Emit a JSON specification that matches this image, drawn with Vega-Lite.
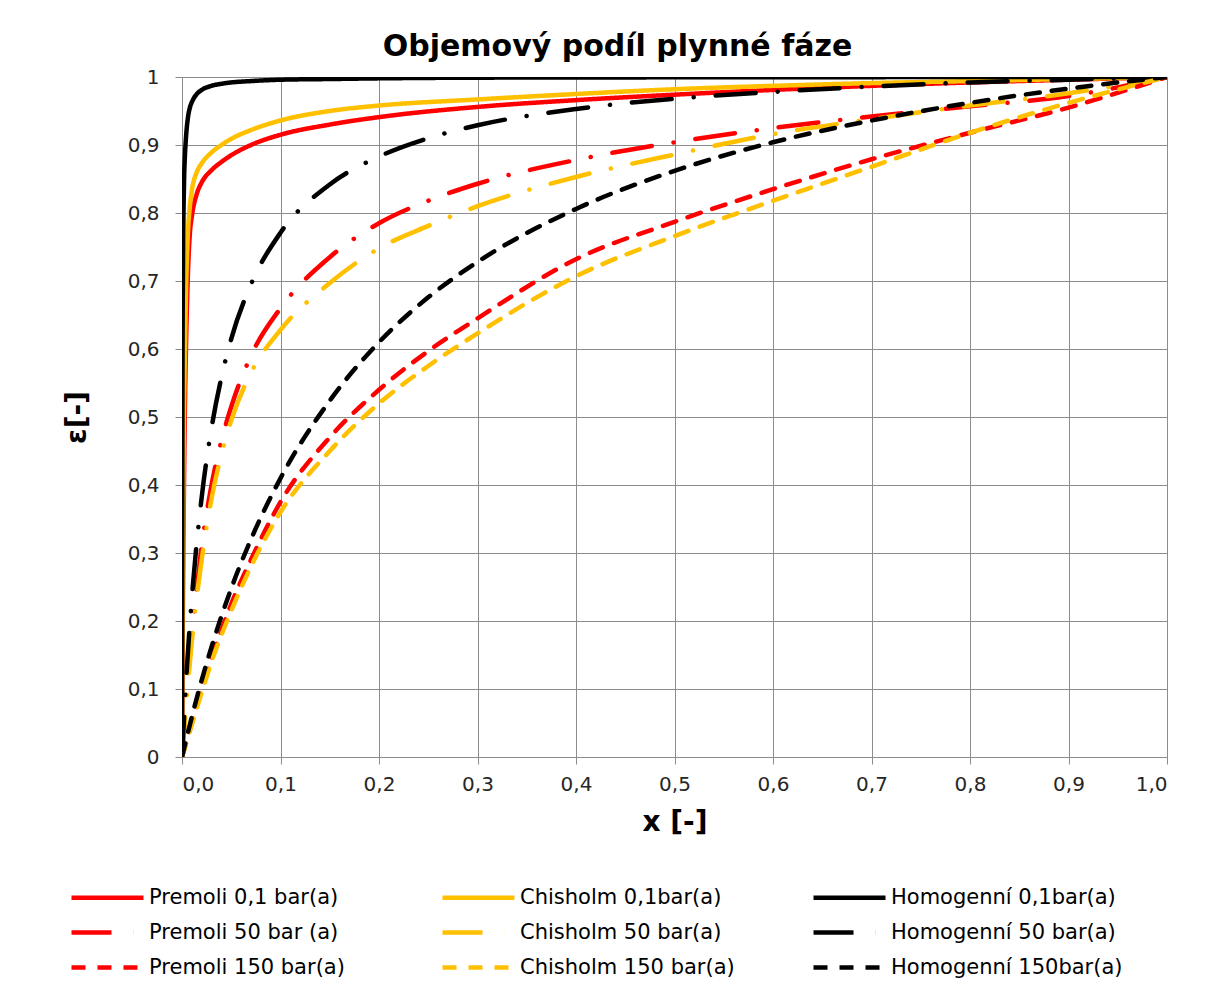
{
  "$schema": "https://vega.github.io/schema/vega-lite/v6.json",
  "width": 985,
  "height": 680,
  "autosize": "none",
  "padding": {"left": 182, "top": 77, "right": 50, "bottom": 246},
  "background": "white",
  "title": {"text": "Objemový podíl plynné fáze", "font": "DejaVu Sans", "fontSize": 30, "fontWeight": "bold", "color": "#000000", "dx": -57, "offset": 5},
  "datasets": {
    "curves": [
      {"s": "Premoli 0,1 bar(a)", "x": 0, "e": 0},
      {"s": "Premoli 0,1 bar(a)", "x": 0.0005, "e": 0.13},
      {"s": "Premoli 0,1 bar(a)", "x": 0.001, "e": 0.24},
      {"s": "Premoli 0,1 bar(a)", "x": 0.002, "e": 0.4},
      {"s": "Premoli 0,1 bar(a)", "x": 0.003, "e": 0.52},
      {"s": "Premoli 0,1 bar(a)", "x": 0.004, "e": 0.6},
      {"s": "Premoli 0,1 bar(a)", "x": 0.006, "e": 0.71},
      {"s": "Premoli 0,1 bar(a)", "x": 0.008, "e": 0.77},
      {"s": "Premoli 0,1 bar(a)", "x": 0.01, "e": 0.795},
      {"s": "Premoli 0,1 bar(a)", "x": 0.015, "e": 0.828},
      {"s": "Premoli 0,1 bar(a)", "x": 0.02, "e": 0.845},
      {"s": "Premoli 0,1 bar(a)", "x": 0.03, "e": 0.863},
      {"s": "Premoli 0,1 bar(a)", "x": 0.04, "e": 0.875},
      {"s": "Premoli 0,1 bar(a)", "x": 0.05, "e": 0.885},
      {"s": "Premoli 0,1 bar(a)", "x": 0.07, "e": 0.9},
      {"s": "Premoli 0,1 bar(a)", "x": 0.1, "e": 0.915},
      {"s": "Premoli 0,1 bar(a)", "x": 0.15, "e": 0.93},
      {"s": "Premoli 0,1 bar(a)", "x": 0.2, "e": 0.941},
      {"s": "Premoli 0,1 bar(a)", "x": 0.3, "e": 0.956},
      {"s": "Premoli 0,1 bar(a)", "x": 0.4, "e": 0.966},
      {"s": "Premoli 0,1 bar(a)", "x": 0.5, "e": 0.974},
      {"s": "Premoli 0,1 bar(a)", "x": 0.6, "e": 0.981},
      {"s": "Premoli 0,1 bar(a)", "x": 0.7, "e": 0.987},
      {"s": "Premoli 0,1 bar(a)", "x": 0.8, "e": 0.992},
      {"s": "Premoli 0,1 bar(a)", "x": 0.9, "e": 0.996},
      {"s": "Premoli 0,1 bar(a)", "x": 1, "e": 1},

      {"s": "Chisholm 0,1bar(a)", "x": 0, "e": 0},
      {"s": "Chisholm 0,1bar(a)", "x": 0.0005, "e": 0.2},
      {"s": "Chisholm 0,1bar(a)", "x": 0.001, "e": 0.33},
      {"s": "Chisholm 0,1bar(a)", "x": 0.002, "e": 0.5},
      {"s": "Chisholm 0,1bar(a)", "x": 0.003, "e": 0.6},
      {"s": "Chisholm 0,1bar(a)", "x": 0.004, "e": 0.68},
      {"s": "Chisholm 0,1bar(a)", "x": 0.006, "e": 0.77},
      {"s": "Chisholm 0,1bar(a)", "x": 0.008, "e": 0.81},
      {"s": "Chisholm 0,1bar(a)", "x": 0.01, "e": 0.833},
      {"s": "Chisholm 0,1bar(a)", "x": 0.015, "e": 0.86},
      {"s": "Chisholm 0,1bar(a)", "x": 0.02, "e": 0.873},
      {"s": "Chisholm 0,1bar(a)", "x": 0.03, "e": 0.889},
      {"s": "Chisholm 0,1bar(a)", "x": 0.04, "e": 0.9},
      {"s": "Chisholm 0,1bar(a)", "x": 0.05, "e": 0.909},
      {"s": "Chisholm 0,1bar(a)", "x": 0.07, "e": 0.922},
      {"s": "Chisholm 0,1bar(a)", "x": 0.1, "e": 0.936},
      {"s": "Chisholm 0,1bar(a)", "x": 0.15, "e": 0.95},
      {"s": "Chisholm 0,1bar(a)", "x": 0.2, "e": 0.958},
      {"s": "Chisholm 0,1bar(a)", "x": 0.3, "e": 0.967},
      {"s": "Chisholm 0,1bar(a)", "x": 0.4, "e": 0.975},
      {"s": "Chisholm 0,1bar(a)", "x": 0.5, "e": 0.982},
      {"s": "Chisholm 0,1bar(a)", "x": 0.6, "e": 0.987},
      {"s": "Chisholm 0,1bar(a)", "x": 0.7, "e": 0.991},
      {"s": "Chisholm 0,1bar(a)", "x": 0.8, "e": 0.994},
      {"s": "Chisholm 0,1bar(a)", "x": 0.9, "e": 0.997},
      {"s": "Chisholm 0,1bar(a)", "x": 1, "e": 1},

      {"s": "Homogenní 0,1bar(a)", "x": 0, "e": 0},
      {"s": "Homogenní 0,1bar(a)", "x": 0.0005, "e": 0.56},
      {"s": "Homogenní 0,1bar(a)", "x": 0.001, "e": 0.72},
      {"s": "Homogenní 0,1bar(a)", "x": 0.002, "e": 0.84},
      {"s": "Homogenní 0,1bar(a)", "x": 0.003, "e": 0.885},
      {"s": "Homogenní 0,1bar(a)", "x": 0.004, "e": 0.91},
      {"s": "Homogenní 0,1bar(a)", "x": 0.006, "e": 0.94},
      {"s": "Homogenní 0,1bar(a)", "x": 0.008, "e": 0.955},
      {"s": "Homogenní 0,1bar(a)", "x": 0.01, "e": 0.963},
      {"s": "Homogenní 0,1bar(a)", "x": 0.015, "e": 0.975},
      {"s": "Homogenní 0,1bar(a)", "x": 0.02, "e": 0.981},
      {"s": "Homogenní 0,1bar(a)", "x": 0.03, "e": 0.987},
      {"s": "Homogenní 0,1bar(a)", "x": 0.04, "e": 0.99},
      {"s": "Homogenní 0,1bar(a)", "x": 0.05, "e": 0.992},
      {"s": "Homogenní 0,1bar(a)", "x": 0.07, "e": 0.994},
      {"s": "Homogenní 0,1bar(a)", "x": 0.1, "e": 0.996},
      {"s": "Homogenní 0,1bar(a)", "x": 0.15, "e": 0.997},
      {"s": "Homogenní 0,1bar(a)", "x": 0.2, "e": 0.998},
      {"s": "Homogenní 0,1bar(a)", "x": 0.3, "e": 0.999},
      {"s": "Homogenní 0,1bar(a)", "x": 0.5, "e": 0.9995},
      {"s": "Homogenní 0,1bar(a)", "x": 0.7, "e": 0.9998},
      {"s": "Homogenní 0,1bar(a)", "x": 1, "e": 1},

      {"s": "Premoli 50 bar (a)", "x": 0, "e": 0},
      {"s": "Premoli 50 bar (a)", "x": 0.005, "e": 0.1},
      {"s": "Premoli 50 bar (a)", "x": 0.01, "e": 0.18},
      {"s": "Premoli 50 bar (a)", "x": 0.02, "e": 0.31},
      {"s": "Premoli 50 bar (a)", "x": 0.03, "e": 0.4},
      {"s": "Premoli 50 bar (a)", "x": 0.04, "e": 0.465},
      {"s": "Premoli 50 bar (a)", "x": 0.05, "e": 0.515},
      {"s": "Premoli 50 bar (a)", "x": 0.07, "e": 0.59},
      {"s": "Premoli 50 bar (a)", "x": 0.1, "e": 0.66},
      {"s": "Premoli 50 bar (a)", "x": 0.15, "e": 0.735},
      {"s": "Premoli 50 bar (a)", "x": 0.2, "e": 0.785},
      {"s": "Premoli 50 bar (a)", "x": 0.25, "e": 0.818},
      {"s": "Premoli 50 bar (a)", "x": 0.3, "e": 0.843},
      {"s": "Premoli 50 bar (a)", "x": 0.4, "e": 0.878},
      {"s": "Premoli 50 bar (a)", "x": 0.5, "e": 0.904},
      {"s": "Premoli 50 bar (a)", "x": 0.6, "e": 0.925},
      {"s": "Premoli 50 bar (a)", "x": 0.7, "e": 0.942},
      {"s": "Premoli 50 bar (a)", "x": 0.8, "e": 0.957},
      {"s": "Premoli 50 bar (a)", "x": 0.9, "e": 0.972},
      {"s": "Premoli 50 bar (a)", "x": 1, "e": 1},

      {"s": "Chisholm 50 bar(a)", "x": 0, "e": 0},
      {"s": "Chisholm 50 bar(a)", "x": 0.005, "e": 0.09},
      {"s": "Chisholm 50 bar(a)", "x": 0.01, "e": 0.17},
      {"s": "Chisholm 50 bar(a)", "x": 0.02, "e": 0.29},
      {"s": "Chisholm 50 bar(a)", "x": 0.03, "e": 0.38},
      {"s": "Chisholm 50 bar(a)", "x": 0.04, "e": 0.445},
      {"s": "Chisholm 50 bar(a)", "x": 0.05, "e": 0.495},
      {"s": "Chisholm 50 bar(a)", "x": 0.07, "e": 0.565},
      {"s": "Chisholm 50 bar(a)", "x": 0.1, "e": 0.628},
      {"s": "Chisholm 50 bar(a)", "x": 0.15, "e": 0.697},
      {"s": "Chisholm 50 bar(a)", "x": 0.2, "e": 0.748},
      {"s": "Chisholm 50 bar(a)", "x": 0.25, "e": 0.781},
      {"s": "Chisholm 50 bar(a)", "x": 0.3, "e": 0.81},
      {"s": "Chisholm 50 bar(a)", "x": 0.4, "e": 0.853},
      {"s": "Chisholm 50 bar(a)", "x": 0.5, "e": 0.886},
      {"s": "Chisholm 50 bar(a)", "x": 0.6, "e": 0.916},
      {"s": "Chisholm 50 bar(a)", "x": 0.7, "e": 0.938},
      {"s": "Chisholm 50 bar(a)", "x": 0.8, "e": 0.958},
      {"s": "Chisholm 50 bar(a)", "x": 0.9, "e": 0.976},
      {"s": "Chisholm 50 bar(a)", "x": 1, "e": 1},

      {"s": "Homogenní 50 bar(a)", "x": 0, "e": 0},
      {"s": "Homogenní 50 bar(a)", "x": 0.005, "e": 0.132},
      {"s": "Homogenní 50 bar(a)", "x": 0.01, "e": 0.234},
      {"s": "Homogenní 50 bar(a)", "x": 0.02, "e": 0.382},
      {"s": "Homogenní 50 bar(a)", "x": 0.03, "e": 0.484},
      {"s": "Homogenní 50 bar(a)", "x": 0.04, "e": 0.558},
      {"s": "Homogenní 50 bar(a)", "x": 0.05, "e": 0.615},
      {"s": "Homogenní 50 bar(a)", "x": 0.07, "e": 0.695},
      {"s": "Homogenní 50 bar(a)", "x": 0.1, "e": 0.771},
      {"s": "Homogenní 50 bar(a)", "x": 0.15, "e": 0.842},
      {"s": "Homogenní 50 bar(a)", "x": 0.2, "e": 0.883},
      {"s": "Homogenní 50 bar(a)", "x": 0.25, "e": 0.91},
      {"s": "Homogenní 50 bar(a)", "x": 0.3, "e": 0.929},
      {"s": "Homogenní 50 bar(a)", "x": 0.4, "e": 0.953},
      {"s": "Homogenní 50 bar(a)", "x": 0.5, "e": 0.968},
      {"s": "Homogenní 50 bar(a)", "x": 0.6, "e": 0.978},
      {"s": "Homogenní 50 bar(a)", "x": 0.7, "e": 0.986},
      {"s": "Homogenní 50 bar(a)", "x": 0.8, "e": 0.992},
      {"s": "Homogenní 50 bar(a)", "x": 0.9, "e": 0.996},
      {"s": "Homogenní 50 bar(a)", "x": 1, "e": 1},

      {"s": "Premoli 150 bar(a)", "x": 0, "e": 0},
      {"s": "Premoli 150 bar(a)", "x": 0.01, "e": 0.05},
      {"s": "Premoli 150 bar(a)", "x": 0.02, "e": 0.1},
      {"s": "Premoli 150 bar(a)", "x": 0.03, "e": 0.145},
      {"s": "Premoli 150 bar(a)", "x": 0.05, "e": 0.225},
      {"s": "Premoli 150 bar(a)", "x": 0.07, "e": 0.29},
      {"s": "Premoli 150 bar(a)", "x": 0.1, "e": 0.375},
      {"s": "Premoli 150 bar(a)", "x": 0.15, "e": 0.47},
      {"s": "Premoli 150 bar(a)", "x": 0.2, "e": 0.54},
      {"s": "Premoli 150 bar(a)", "x": 0.25, "e": 0.597},
      {"s": "Premoli 150 bar(a)", "x": 0.3, "e": 0.645},
      {"s": "Premoli 150 bar(a)", "x": 0.4, "e": 0.732},
      {"s": "Premoli 150 bar(a)", "x": 0.5, "e": 0.787},
      {"s": "Premoli 150 bar(a)", "x": 0.6, "e": 0.835},
      {"s": "Premoli 150 bar(a)", "x": 0.7, "e": 0.879},
      {"s": "Premoli 150 bar(a)", "x": 0.8, "e": 0.918},
      {"s": "Premoli 150 bar(a)", "x": 0.9, "e": 0.955},
      {"s": "Premoli 150 bar(a)", "x": 1, "e": 1},

      {"s": "Chisholm 150 bar(a)", "x": 0, "e": 0},
      {"s": "Chisholm 150 bar(a)", "x": 0.01, "e": 0.048},
      {"s": "Chisholm 150 bar(a)", "x": 0.02, "e": 0.095},
      {"s": "Chisholm 150 bar(a)", "x": 0.03, "e": 0.14},
      {"s": "Chisholm 150 bar(a)", "x": 0.05, "e": 0.215},
      {"s": "Chisholm 150 bar(a)", "x": 0.07, "e": 0.28},
      {"s": "Chisholm 150 bar(a)", "x": 0.1, "e": 0.36},
      {"s": "Chisholm 150 bar(a)", "x": 0.15, "e": 0.45},
      {"s": "Chisholm 150 bar(a)", "x": 0.2, "e": 0.52},
      {"s": "Chisholm 150 bar(a)", "x": 0.25, "e": 0.575},
      {"s": "Chisholm 150 bar(a)", "x": 0.3, "e": 0.623},
      {"s": "Chisholm 150 bar(a)", "x": 0.4, "e": 0.707},
      {"s": "Chisholm 150 bar(a)", "x": 0.5, "e": 0.766},
      {"s": "Chisholm 150 bar(a)", "x": 0.6, "e": 0.818},
      {"s": "Chisholm 150 bar(a)", "x": 0.7, "e": 0.868},
      {"s": "Chisholm 150 bar(a)", "x": 0.8, "e": 0.918},
      {"s": "Chisholm 150 bar(a)", "x": 0.9, "e": 0.962},
      {"s": "Chisholm 150 bar(a)", "x": 1, "e": 1},

      {"s": "Homogenní 150bar(a)", "x": 0, "e": 0},
      {"s": "Homogenní 150bar(a)", "x": 0.01, "e": 0.059},
      {"s": "Homogenní 150bar(a)", "x": 0.02, "e": 0.113},
      {"s": "Homogenní 150bar(a)", "x": 0.03, "e": 0.162},
      {"s": "Homogenní 150bar(a)", "x": 0.05, "e": 0.248},
      {"s": "Homogenní 150bar(a)", "x": 0.07, "e": 0.32},
      {"s": "Homogenní 150bar(a)", "x": 0.1, "e": 0.41},
      {"s": "Homogenní 150bar(a)", "x": 0.15, "e": 0.524},
      {"s": "Homogenní 150bar(a)", "x": 0.2, "e": 0.61},
      {"s": "Homogenní 150bar(a)", "x": 0.25, "e": 0.676},
      {"s": "Homogenní 150bar(a)", "x": 0.3, "e": 0.728},
      {"s": "Homogenní 150bar(a)", "x": 0.4, "e": 0.806},
      {"s": "Homogenní 150bar(a)", "x": 0.5, "e": 0.862},
      {"s": "Homogenní 150bar(a)", "x": 0.6, "e": 0.904},
      {"s": "Homogenní 150bar(a)", "x": 0.7, "e": 0.936},
      {"s": "Homogenní 150bar(a)", "x": 0.8, "e": 0.962},
      {"s": "Homogenní 150bar(a)", "x": 0.9, "e": 0.983},
      {"s": "Homogenní 150bar(a)", "x": 1, "e": 1}
    ]
  },
  "data": {"name": "curves"},
  "mark": {"type": "line", "interpolate": "monotone", "strokeWidth": 4.5, "strokeCap": "round", "strokeJoin": "round", "clip": true},
  "encoding": {
    "x": {"field": "x", "type": "quantitative",
      "scale": {"domain": [0, 1], "nice": false},
      "axis": {"values": [0, 0.1, 0.2, 0.3, 0.4, 0.5, 0.6, 0.7, 0.8, 0.9, 1], "labelExpr": "replace(format(datum.value, '.1f'), '.', ',')", "title": "x [-]", "titlePadding": 14, "labelPadding": 10}},
    "y": {"field": "e", "type": "quantitative",
      "scale": {"domain": [0, 1], "nice": false},
      "axis": {"values": [0, 0.1, 0.2, 0.3, 0.4, 0.5, 0.6, 0.7, 0.8, 0.9, 1], "labelExpr": "datum.value == 0 ? '0' : datum.value == 1 ? '1' : replace(format(datum.value, '.1f'), '.', ',')", "title": "ε[-]", "titlePadding": 36, "labelPadding": 16}},
    "color": {"field": "s", "type": "nominal", "title": null,
      "scale": {"domain": ["Premoli 0,1 bar(a)", "Chisholm 0,1bar(a)", "Homogenní 0,1bar(a)", "Premoli 50 bar (a)", "Chisholm 50 bar(a)", "Homogenní 50 bar(a)", "Premoli 150 bar(a)", "Chisholm 150 bar(a)", "Homogenní 150bar(a)"],
        "range": ["#FF0000", "#FFC000", "#000000", "#FF0000", "#FFC000", "#000000", "#FF0000", "#FFC000", "#000000"]}},
    "strokeDash": {"field": "s", "type": "nominal", "title": null,
      "scale": {"domain": ["Premoli 0,1 bar(a)", "Chisholm 0,1bar(a)", "Homogenní 0,1bar(a)", "Premoli 50 bar (a)", "Chisholm 50 bar(a)", "Homogenní 50 bar(a)", "Premoli 150 bar(a)", "Chisholm 150 bar(a)", "Homogenní 150bar(a)"],
        "range": [[1, 0], [1, 0], [1, 0], [40, 22, 0.1, 22], [40, 22, 0.1, 22], [40, 22, 0.1, 22], [14, 12], [14, 12], [14, 12]]}}
  },
  "config": {
    "view": {"stroke": null},
    "axis": {
      "gridColor": "#8c8c8c", "gridWidth": 1, "gridOpacity": 1,
      "domainColor": "#8c8c8c", "domainWidth": 1,
      "tickColor": "#8c8c8c", "tickSize": 7, "tickWidth": 1,
      "labelFont": "DejaVu Sans", "labelFontSize": 20, "labelColor": "#262626",
      "titleFont": "DejaVu Sans", "titleFontSize": 28, "titleFontWeight": "bold", "titleColor": "#000000"
    },
    "legend": {
      "orient": "none", "legendX": -86, "legendY": 809,
      "columns": 3, "direction": "horizontal", "gridAlign": "all",
      "columnPadding": 52, "rowPadding": 13, "padding": 0,
      "symbolType": "M-4,0H4", "symbolSize": 324, "symbolStrokeWidth": 4.5,
      "labelFont": "DejaVu Sans", "labelFontSize": 21, "labelColor": "#000000", "labelOffset": 30, "labelLimit": 400
    }
  }
}
